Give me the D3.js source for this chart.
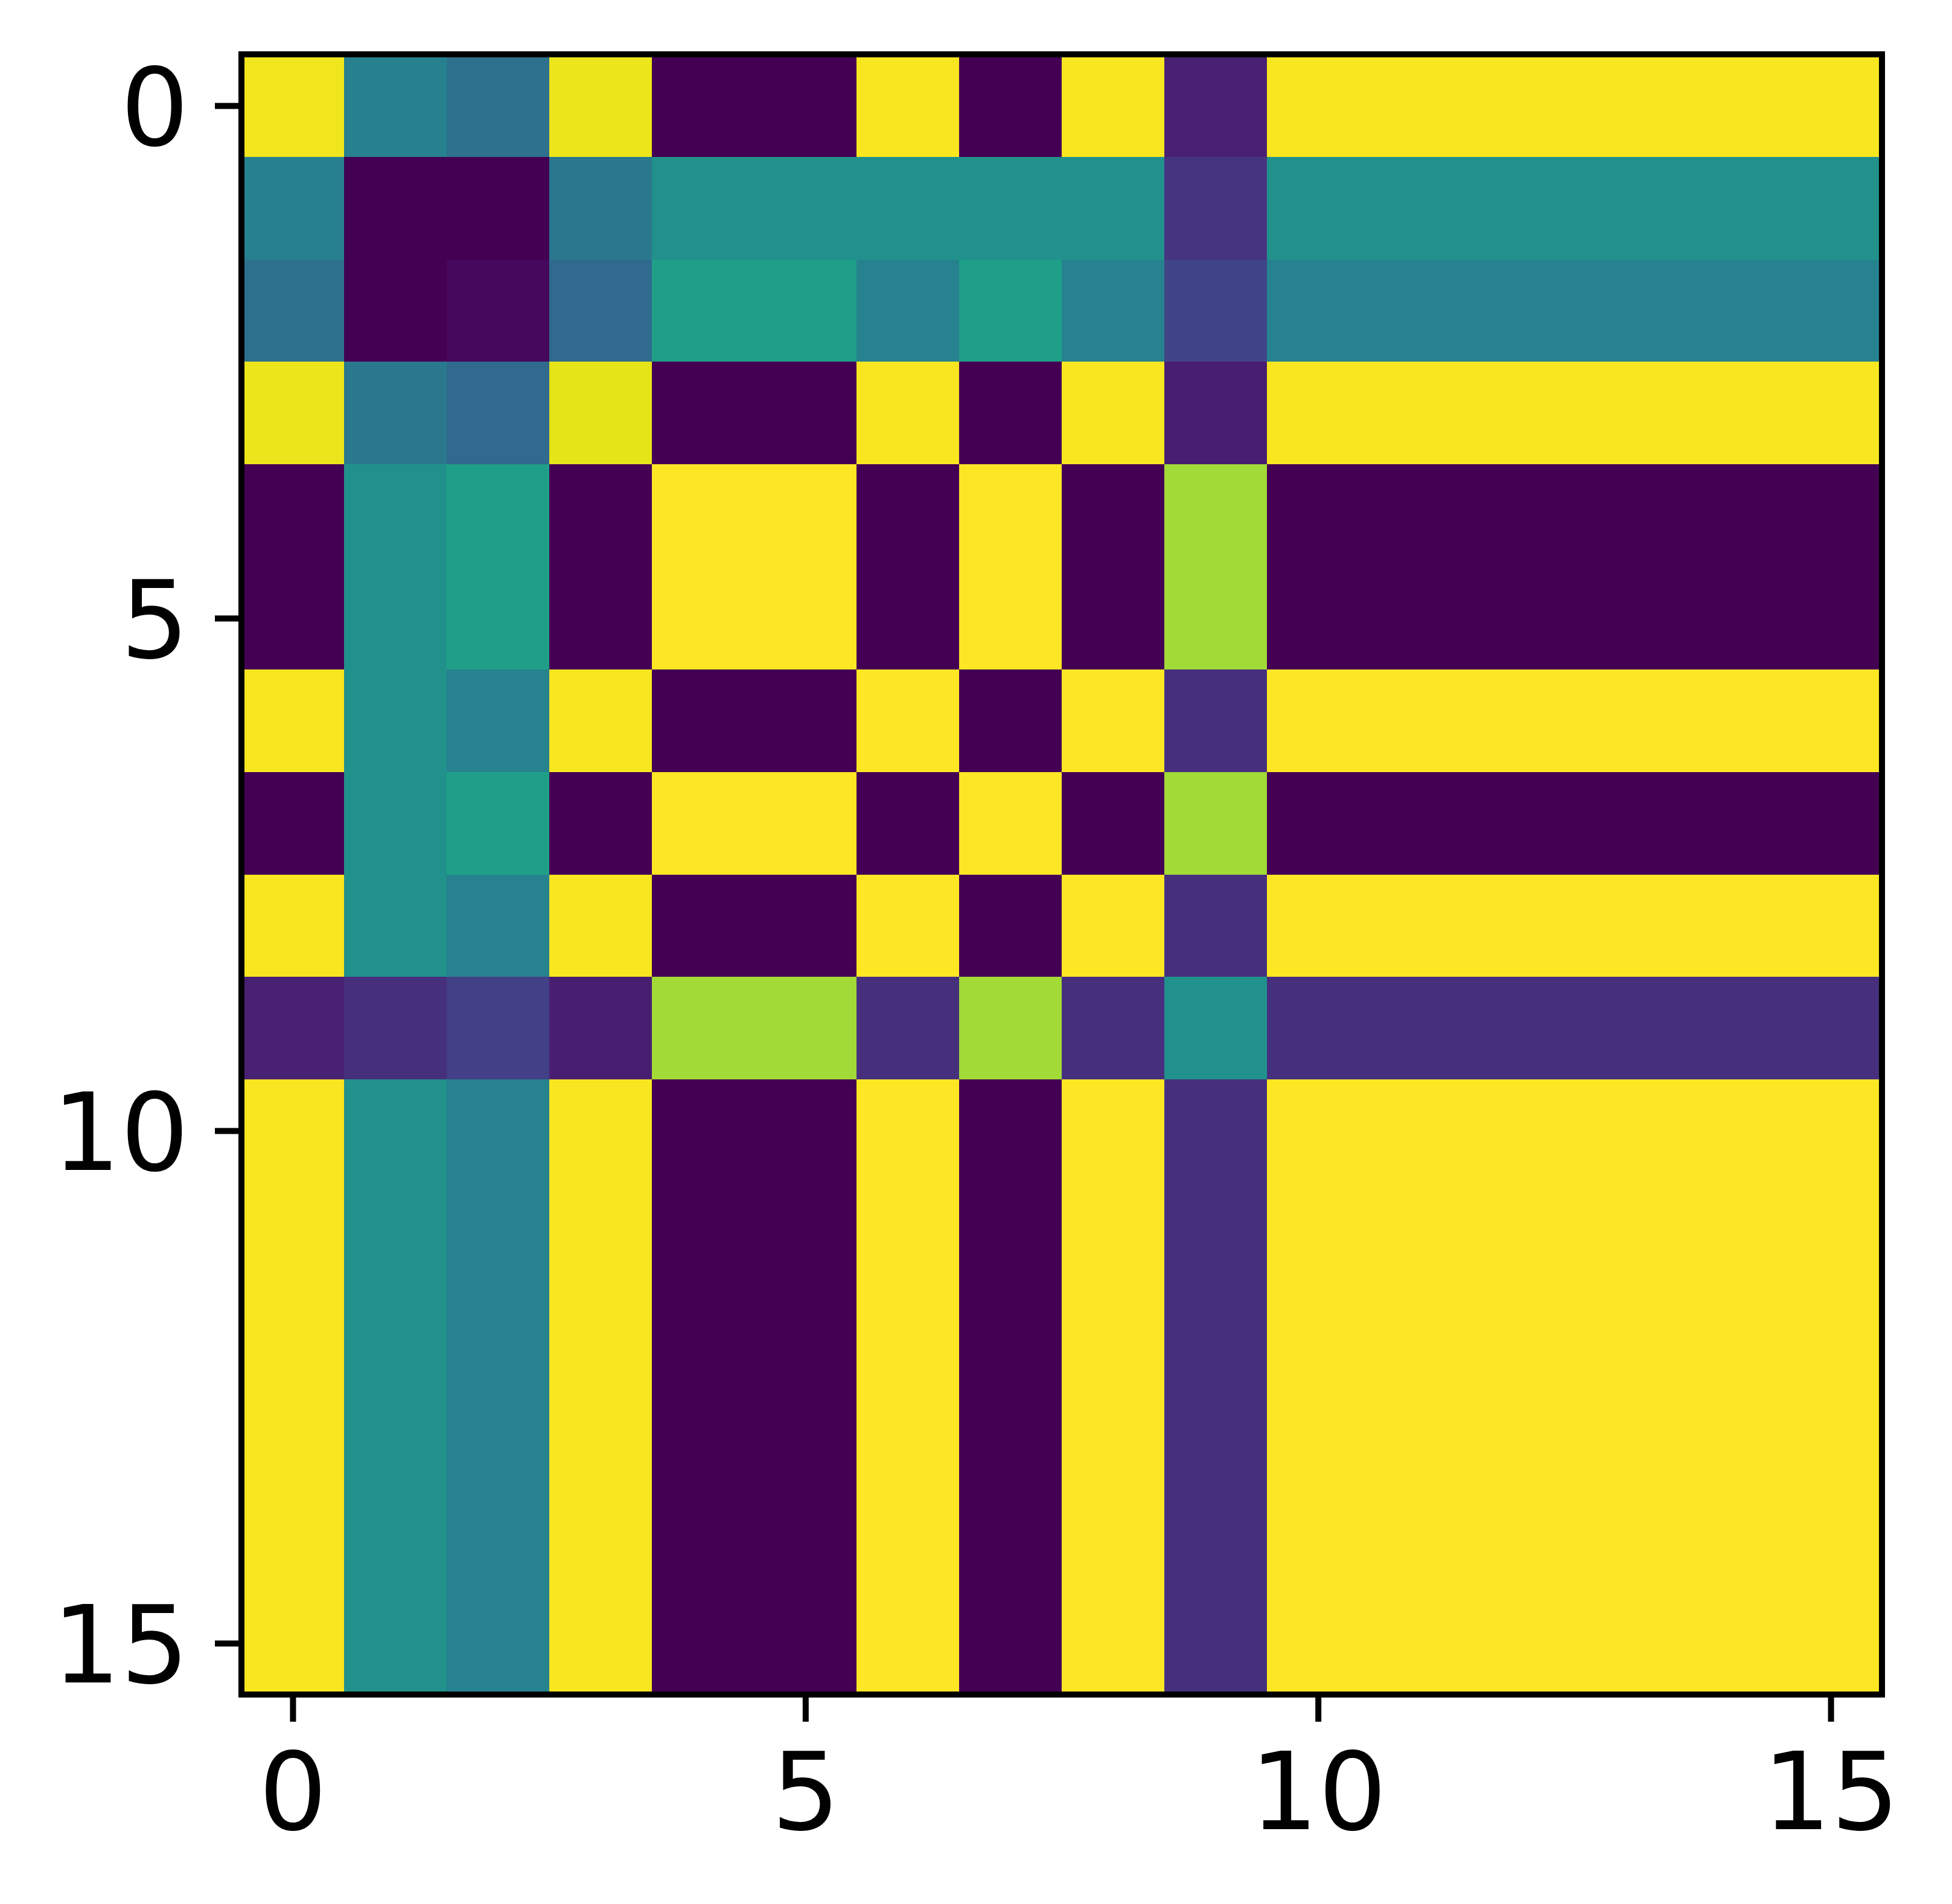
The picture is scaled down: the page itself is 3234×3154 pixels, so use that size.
<!DOCTYPE html>
<html>
<head>
<meta charset="utf-8">
<script src="https://cdn.jsdelivr.net/npm/d3@7"></script>
<style>
  html, body { margin: 0; padding: 0; background: #ffffff; }
  svg { display: block; }
</style>
</head>
<body>
<script>
// ---- data (fraction of the viridis colour range, 0 = dark purple, 1 = yellow) ----
const rowIndex = d3.range(16);
const colIndex = d3.range(16);
const xTickValues = [0, 5, 10, 15];
const yTickValues = [0, 5, 10, 15];

const row0  = [0.98, 0.43, 0.37, 0.97, 0.00, 0.00, 0.99, 0.00, 0.99, 0.09, 0.99, 0.99, 0.99, 0.99, 0.99, 0.99];
const row1  = [0.43, 0.00, 0.00, 0.40, 0.50, 0.50, 0.50, 0.50, 0.50, 0.15, 0.50, 0.50, 0.50, 0.50, 0.50, 0.50];
const row2  = [0.37, 0.00, 0.02, 0.34, 0.56, 0.56, 0.44, 0.56, 0.44, 0.20, 0.44, 0.44, 0.44, 0.44, 0.44, 0.44];
const row3  = [0.97, 0.40, 0.34, 0.96, 0.00, 0.00, 0.99, 0.00, 0.99, 0.085, 0.99, 0.99, 0.99, 0.99, 0.99, 0.99];
const row4  = [0.00, 0.50, 0.56, 0.00, 1.00, 1.00, 0.00, 1.00, 0.00, 0.86, 0.00, 0.00, 0.00, 0.00, 0.00, 0.00];
const row5  = [0.00, 0.50, 0.56, 0.00, 1.00, 1.00, 0.00, 1.00, 0.00, 0.86, 0.00, 0.00, 0.00, 0.00, 0.00, 0.00];
const row6  = [0.99, 0.50, 0.44, 0.99, 0.00, 0.00, 1.00, 0.00, 1.00, 0.14, 1.00, 1.00, 1.00, 1.00, 1.00, 1.00];
const row7  = [0.00, 0.50, 0.56, 0.00, 1.00, 1.00, 0.00, 1.00, 0.00, 0.86, 0.00, 0.00, 0.00, 0.00, 0.00, 0.00];
const row8  = [0.99, 0.50, 0.44, 0.99, 0.00, 0.00, 1.00, 0.00, 1.00, 0.14, 1.00, 1.00, 1.00, 1.00, 1.00, 1.00];
const row9  = [0.09, 0.14, 0.19, 0.085, 0.86, 0.86, 0.14, 0.86, 0.14, 0.50, 0.14, 0.14, 0.14, 0.14, 0.14, 0.14];
const row10 = [0.99, 0.50, 0.44, 0.99, 0.00, 0.00, 1.00, 0.00, 1.00, 0.14, 1.00, 1.00, 1.00, 1.00, 1.00, 1.00];
const row11 = [0.99, 0.50, 0.44, 0.99, 0.00, 0.00, 1.00, 0.00, 1.00, 0.14, 1.00, 1.00, 1.00, 1.00, 1.00, 1.00];
const row12 = [0.99, 0.50, 0.44, 0.99, 0.00, 0.00, 1.00, 0.00, 1.00, 0.14, 1.00, 1.00, 1.00, 1.00, 1.00, 1.00];
const row13 = [0.99, 0.50, 0.44, 0.99, 0.00, 0.00, 1.00, 0.00, 1.00, 0.14, 1.00, 1.00, 1.00, 1.00, 1.00, 1.00];
const row14 = [0.99, 0.50, 0.44, 0.99, 0.00, 0.00, 1.00, 0.00, 1.00, 0.14, 1.00, 1.00, 1.00, 1.00, 1.00, 1.00];
const row15 = [0.99, 0.50, 0.44, 0.99, 0.00, 0.00, 1.00, 0.00, 1.00, 0.14, 1.00, 1.00, 1.00, 1.00, 1.00, 1.00];
const matrix = [row0, row1, row2, row3, row4, row5, row6, row7, row8, row9,
                row10, row11, row12, row13, row14, row15];

// ---- layout ----
const W = 3234, H = 3154;
const plotLeft = 400, plotRight = 3118, plotTop = 90, plotBottom = 2807;
const fontSize = 178;
const lineW = 10;

const svg = d3.select("body").append("svg")
  .attr("width", W).attr("height", H)
  .attr("viewBox", `0 0 ${W} ${H}`);
svg.append("rect").attr("width", W).attr("height", H).attr("fill", "#ffffff");

const x = d3.scaleLinear().domain([-0.5, 15.5]).range([plotLeft, plotRight]);
const y = d3.scaleLinear().domain([-0.5, 15.5]).range([plotTop, plotBottom]);
const color = d3.scaleSequential(d3.interpolateViridis).domain([0, 1]);

const cells = [];
rowIndex.forEach(r => colIndex.forEach(c => cells.push({ r, c, v: matrix[r][c] })));

svg.append("g").selectAll("rect")
  .data(cells)
  .join("rect")
  .attr("x", d => x(d.c - 0.5))
  .attr("y", d => y(d.r - 0.5))
  .attr("width", d => x(d.c + 0.5) - x(d.c - 0.5) + 0.6)
  .attr("height", d => y(d.r + 0.5) - y(d.r - 0.5) + 0.6)
  .attr("fill", d => color(d.v))
  .attr("shape-rendering", "crispEdges");

// ---- axes ----
const xAxis = svg.append("g")
  .attr("transform", `translate(0,${plotBottom})`)
  .call(d3.axisBottom(x).tickValues(xTickValues).tickSize(45).tickFormat(d3.format("d")));
const yAxis = svg.append("g")
  .attr("transform", `translate(${plotLeft},0)`)
  .call(d3.axisLeft(y).tickValues(yTickValues).tickSize(44).tickFormat(d3.format("d")));

[xAxis, yAxis].forEach(g => {
  g.select(".domain").remove();
  g.selectAll(".tick line").attr("stroke", "#000").attr("stroke-width", lineW);
  g.selectAll(".tick text")
    .attr("fill", "#000")
    .style("font-family", "'DejaVu Sans', sans-serif")
    .style("font-size", fontSize + "px");
});
xAxis.selectAll(".tick text").attr("dy", null).attr("y", 223).attr("text-anchor", "middle");
yAxis.selectAll(".tick text").attr("dy", null).attr("x", -87).attr("y", 0.3645 * fontSize).attr("text-anchor", "end");

// ---- frame (spines) ----
svg.append("rect")
  .attr("x", plotLeft).attr("y", plotTop)
  .attr("width", plotRight - plotLeft).attr("height", plotBottom - plotTop)
  .attr("fill", "none").attr("stroke", "#000").attr("stroke-width", lineW)
  .attr("stroke-linejoin", "miter");
</script>
</body>
</html>
